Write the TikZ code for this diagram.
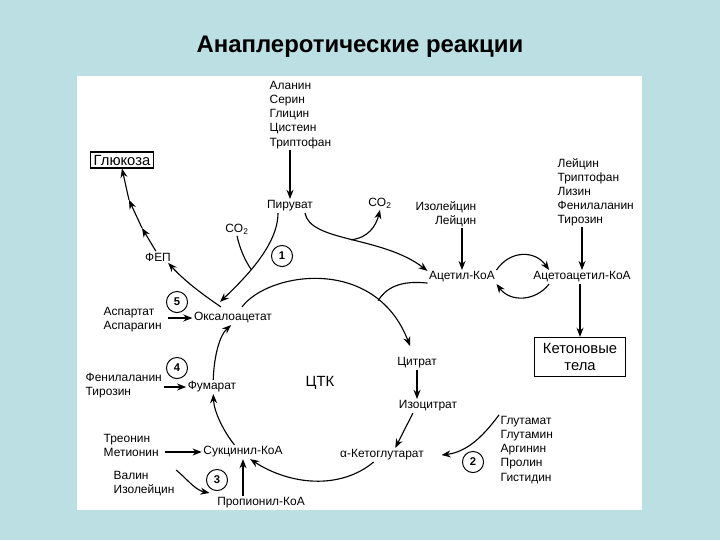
\documentclass[tikz,border=0pt]{standalone}
\usepackage{fontspec}
\setmainfont{Liberation Sans}
\usetikzlibrary{positioning,arrows.meta,calc}
\definecolor{bgteal}{HTML}{BCDFE3}

\tikzset{
  lbl/.style={font=\fontsize{8.5}{10}\selectfont, inner sep=1pt},
  lst/.style={lbl, align=left},
  bigbox/.style={draw, line width=0.8pt, font=\fontsize{10.5}{12.5}\selectfont, inner sep=2pt},
  num/.style={circle, draw, line width=0.7pt, minimum size=15pt, inner sep=0pt, font=\fontsize{8}{9}\selectfont\bfseries},
  arr/.style={-{Stealth[length=6.5pt,width=5pt]}, line width=0.8pt},
  ln/.style={line width=0.8pt},
}

\begin{document}
\begin{tikzpicture}[x=0.025cm, y=-0.025cm]
    % Slide background and panel
    \fill[bgteal] (0,0) rectangle (720,540);
    \fill[white] (77,76) rectangle (642,510);
    \node[font=\fontsize{17}{20}\selectfont\bfseries] (title) at (360,47) {Анаплеротические реакции};

    % Pyruvate and amino acids
    \node[lst, anchor=west] (aa1) at (268,115) {Аланин\\Серин\\Глицин\\Цистеин\\Триптофан};
    \node[lbl] (pyr) at (290,206) {Пируват};
    \node[lbl] (co2a) at (380,203) {CO\textsubscript{2}};
    \node[lbl] (co2b) at (237,229) {CO\textsubscript{2}};
    \node[num] (n1) at (282,256) {1};

    % Gluconeogenesis
    \node[bigbox] (gluc) at (122,160) {Глюкоза};
    \node[lbl] (fep) at (158,257) {ФЕП};
    \coordinate (g1) at (142,228);
    \coordinate (g2) at (129,200);

    % Cycle intermediates
    \node[lbl] (oxa) at (233,318) {Оксалоацетат};
    \node[lbl] (fum) at (212,387) {Фумарат};
    \node[lbl] (suc) at (243,452) {Сукцинил-КоА};
    \node[lbl] (pro) at (261,503) {Пропионил-КоА};
    \node[lbl] (cit) at (417,363) {Цитрат};
    \node[lbl] (iso) at (428,406) {Изоцитрат};
    \node[lbl] (akg) at (382,455) {α-Кетоглутарат};
    \node[font=\fontsize{10.5}{12}\selectfont] (ctk) at (320,383) {ЦТК};

    % Amino acids feeding the cycle
    \node[lst, anchor=west] (asp) at (102,320) {Аспартат\\Аспарагин};
    \node[num] (n5) at (177,302) {5};
    \node[lst, anchor=west] (phe) at (84,386) {Фенилаланин\\Тирозин};
    \node[num] (n4) at (177,368) {4};
    \node[lst, anchor=west] (thr) at (102,445) {Треонин\\Метионин};
    \node[lst, anchor=west] (val) at (112,484) {Валин\\Изолейцин};
    \node[num] (n3) at (217,480) {3};
    \node[lst, anchor=west] (glu) at (499,450) {Глутамат\\Глутамин\\Аргинин\\Пролин\\Гистидин};
    \node[num] (n2) at (473,462) {2};

    % Ketone side
    \node[lbl] (acc) at (462,277) {Ацетил-КоА};
    \node[lbl] (aac) at (582,277) {Ацетоацетил-КоА};
    \node[lst, align=right, anchor=east] (ile) at (478,214) {Изолейцин\\Лейцин};
    \node[lst, anchor=west] (lys) at (556,192) {Лейцин\\Триптофан\\Лизин\\Фенилаланин\\Тирозин};
    \node[bigbox, align=center, inner xsep=6pt, inner ysep=4pt] (ket) at (580,357) {Кетоновые\\тела};

    % Arrows around pyruvate
    \draw[arr] (aa1.south -| pyr.north) -- (pyr.north);
    \draw[arr] ([shift={(-12,0)}]pyr.south) .. controls (278,245) and (245,278) .. ([shift={(-13,-9)}]oxa.north) coordinate[pos=0.6] (m1);
    \draw[ln] (co2b.south) .. controls (240,250) and (246,262) .. (m1);
    \draw[arr] ([shift={(15,0)}]pyr.south) .. controls (310,242) and (382,236) .. (acc.170) coordinate[pos=0.5] (m2);
    \draw[arr] (m2) .. controls (368,238) and (376,226) .. (co2a.south);

    % To glucose
    \draw[arr] ([shift={(-12,-4)}]oxa.north) .. controls (196,290) and (182,278) .. (fep.-30);
    \draw[arr] (fep.110) -- (g1);
    \draw[arr] (g1) -- (g2);
    \draw[arr] (g2) -- (gluc.south);

    % The cycle
    \draw[arr] ([shift={(9,-4)}]oxa.north) .. controls (268,272) and (375,255) .. ([shift={(-7,-10)}]cit.north) coordinate[pos=0.78] (m3);
    \draw[ln] (acc.190) .. controls (400,280) and (386,288) .. (m3);
    \draw[arr] (cit.south) -- (cit.south |- iso.north);
    \draw[arr] (iso.205) -- (akg.28);
    \draw[arr] (akg.220) .. controls (340,490) and (290,485) .. (suc.-45);
    \draw[arr] (suc.140) .. controls (224,432) and (214,412) .. (fum.-80);
    \draw[arr] (fum.80) .. controls (214,355) and (220,335) .. (oxa.-105);

    % Inputs from amino acids
    \draw[arr] ([shift={(5,0)}]asp.east |- oxa.west) -- (oxa.west);
    \draw[arr] (phe.east |- fum.west) -- (fum.west);
    \draw[arr] ([shift={(5,0)}]thr.east |- suc.west) -- (suc.west);
    \draw[arr] (val.north east) .. controls (186,478) and (195,490) .. ([shift={(-6,-3)}]pro.north west);
    \draw[arr] (pro.north -| suc.south) -- (suc.south);
    \draw[arr] (glu.north west) .. controls (482,438) and (466,452) .. ([shift={(16,0)}]akg.east);

    % Acetyl-CoA and ketone bodies
    \draw[arr] (ile.south -| acc.north) -- (acc.north);
    \draw[arr] (lys.south -| aac.north) -- (aac.north);
    \draw[arr] (acc.north east) .. controls (510,250) and (535,250) .. (aac.168);
    \draw[arr] (aac.-168) .. controls (535,302) and (510,302) .. (acc.south east);
    \draw[arr] (aac.south -| ket.north) -- (ket.north);
\end{tikzpicture}
\end{document}
